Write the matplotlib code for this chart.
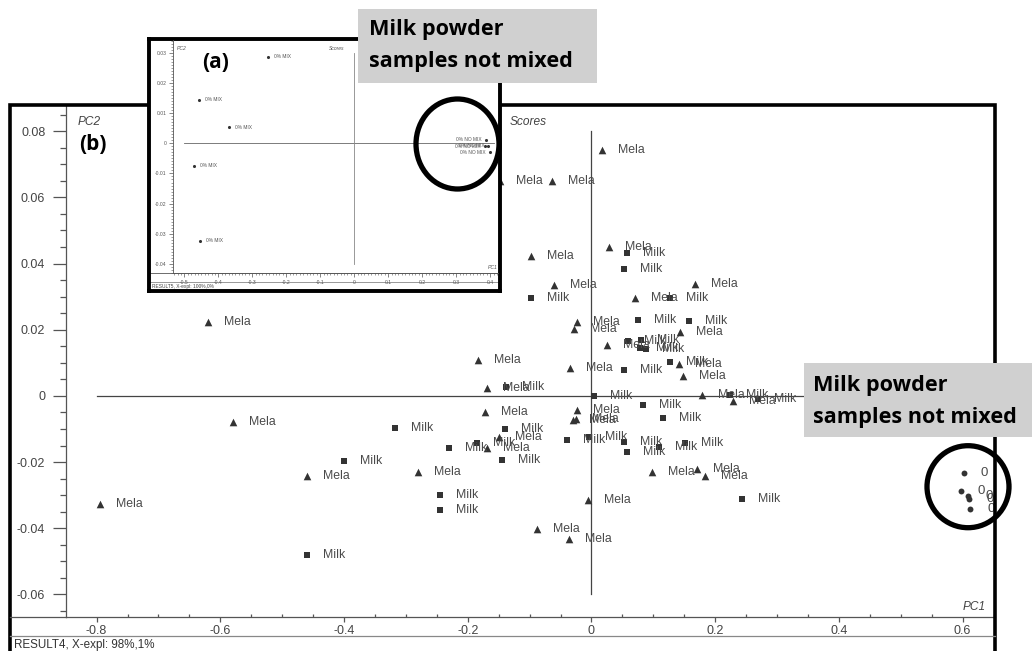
import matplotlib
matplotlib.use("Agg")
import matplotlib.pyplot as plt
from matplotlib.patches import Rectangle, Ellipse
from matplotlib.lines import Line2D
from matplotlib.ticker import MultipleLocator, FuncFormatter

plt.rcParams['axes.unicode_minus'] = False
plt.rcParams['font.family'] = ['Liberation Sans', 'DejaVu Sans']

# ---- main plot (b): PCA scores ----
mela_x = [0.0165, -0.148, -0.0643, -0.0978, 0.0288, -0.0601, 0.1673, 0.0711, -0.620,
          -0.0239, -0.0278, 0.1431, 0.0251, -0.1835, -0.0348, 0.1414, 0.1474, -0.1694,
          0.1786, 0.2283, -0.1722, -0.0234, -0.0299, -0.0251, -0.580, -0.149, -0.1694,
          -0.280, -0.4594, 0.0983, 0.171, 0.1835, -0.7945, -0.0052, -0.0886, -0.0364]
mela_y = [0.0743, 0.0650, 0.0650, 0.0424, 0.0449, 0.0335, 0.0337, 0.0295, 0.0224,
          0.0223, 0.0202, 0.0194, 0.0154, 0.0109, 0.0085, 0.0097, 0.0061, 0.0025,
          0.0003, -0.0014, -0.0050, -0.0042, -0.0073, -0.0069, -0.0079, -0.0123, -0.0158,
          -0.0229, -0.0242, -0.0229, -0.0221, -0.0242, -0.0327, -0.0314, -0.0402, -0.0432]

milk_x = [0.0569, 0.0530, -0.0978, 0.1269, 0.0757, 0.1581, 0.0590, 0.0800, 0.0784,
          0.0881, 0.1269, 0.0530, -0.1382, 0.0045, 0.2239, 0.2692, 0.0828, 0.1161,
          -0.3181, -0.1398, -0.1846, -0.2304, -0.1442, -0.0401, -0.0040, 0.0525,
          0.0569, 0.1091, 0.1511, -0.3996, 0.2438, -0.2449, -0.2449, -0.4604]
milk_y = [0.0431, 0.0384, 0.0297, 0.0297, 0.0230, 0.0227, 0.0165, 0.0168, 0.0144,
          0.0142, 0.0102, 0.0079, 0.0028, 0.0001, 0.0003, -0.0010, -0.0027, -0.0066,
          -0.0096, -0.0101, -0.0143, -0.0158, -0.0193, -0.0132, -0.0124, -0.0138,
          -0.0170, -0.0153, -0.0143, -0.0197, -0.0311, -0.0299, -0.0344, -0.0480]

zero_x = [0.6021, 0.5973, 0.6091, 0.6107, 0.6119]
zero_y = [-0.0232, -0.0286, -0.0302, -0.0312, -0.0342]

xticks_main = [-0.8, -0.6, -0.4, -0.2, 0, 0.2, 0.4, 0.6]
yticks_main = [-0.06, -0.04, -0.02, 0, 0.02, 0.04, 0.06, 0.08]

# ---- inset (a) ----
mix_x = [-0.2529, -0.456, -0.3677, -0.4707, -0.4539]
mix_y = [0.0288, 0.0146, 0.0054, -0.0075, -0.0324]
nomix_x = [0.3871, 0.385, 0.3948, 0.3998]
nomix_y = [0.0013, -0.0009, -0.0008, -0.0030]

xticks_inset = [-0.5, -0.4, -0.3, -0.2, -0.1, 0, 0.1, 0.2, 0.3, 0.4]
yticks_inset = [-0.04, -0.03, -0.02, -0.01, 0, 0.01, 0.02, 0.03]

W, H = 1032, 651


def fx(px):
    return px / W


def fy(py):
    return 1 - py / H


def fmt(v, pos=None):
    if abs(v) < 1e-9:
        return '0'
    return '%g' % round(v, 4)


mark_c = '#333333'
lab_c = '#4a4a4a'
axis_c = '#555555'
bold_font = ['Open Sans', 'DejaVu Sans']

fig = plt.figure(figsize=(W / 100, H / 100), dpi=100)
fig.patch.set_facecolor('white')

# main axes
ax = fig.add_axes([fx(66), fy(617), (995 - 66) / W, (617 - 105) / H])
ax.set_xlim(-0.8495, 0.6523)
ax.set_ylim(-0.0668, 0.0879)
for s in ['top', 'right']:
    ax.spines[s].set_visible(False)
for s in ['left', 'bottom']:
    ax.spines[s].set_color(axis_c)
    ax.spines[s].set_linewidth(0.9)

ax.set_xticks(xticks_main)
ax.set_yticks(yticks_main)
ax.xaxis.set_minor_locator(MultipleLocator(0.05))
ax.yaxis.set_minor_locator(MultipleLocator(0.005))
ax.xaxis.set_major_formatter(FuncFormatter(fmt))
ax.yaxis.set_major_formatter(FuncFormatter(fmt))
ax.tick_params(axis='y', which='major', length=9.4, width=0.9, color=axis_c,
               labelsize=9, labelcolor='#444444', pad=5.5)
ax.tick_params(axis='y', which='minor', length=4, width=0.9, color=axis_c)
ax.tick_params(axis='x', which='major', length=3.6, width=0.9, color=axis_c,
               labelsize=9, labelcolor='#444444', pad=2.5)
ax.tick_params(axis='x', which='minor', direction='in', length=2, width=0.9, color=axis_c)

ax.plot([-0.8, 0.6], [0, 0], color='#444444', lw=0.9, zorder=1)
ax.plot([0, 0], [-0.06, 0.08], color='#444444', lw=0.9, zorder=1)

ax.scatter(mela_x, mela_y, marker='^', s=30, color=mark_c, zorder=3, linewidths=0)
ax.scatter(milk_x, milk_y, marker='s', s=20, color=mark_c, zorder=3, linewidths=0)
ax.scatter(zero_x, zero_y, marker='o', s=18, color=mark_c, zorder=3, linewidths=0)
for x, y in zip(mela_x, mela_y):
    ax.annotate('Mela', (x, y), xytext=(16, 0), textcoords='offset pixels',
                va='center', ha='left', fontsize=8.8, color=lab_c, zorder=4)
for x, y in zip(milk_x, milk_y):
    ax.annotate('Milk', (x, y), xytext=(16, 0), textcoords='offset pixels',
                va='center', ha='left', fontsize=8.8, color=lab_c, zorder=4)
for x, y in zip(zero_x, zero_y):
    ax.annotate('0', (x, y), xytext=(17, 0), textcoords='offset pixels',
                va='center', ha='left', fontsize=9.5, color=lab_c, zorder=4)

# lines around the main plot
fig.add_artist(Line2D([fx(10), fx(66)], [fy(617), fy(617)], color=axis_c, lw=0.9))
fig.add_artist(Line2D([fx(10), fx(995)], [fy(636), fy(636)], color='#888888', lw=0.9))
fig.add_artist(Rectangle((fx(10), fy(700)), (995 - 10) / W, (700 - 105) / H,
                         transform=fig.transFigure, fill=False, ec='black', lw=2.6, zorder=1))
fig.text(fx(78), fy(122), 'PC2', fontsize=8.6, style='italic', color='#444444', va='center')
fig.text(fx(510), fy(122), 'Scores', fontsize=8.6, style='italic', color='#444444', va='center')
fig.text(fx(963), fy(607), 'PC1', fontsize=8.6, style='italic', color='#444444', va='center')
fig.text(fx(14), fy(645), 'RESULT4, X-expl: 98%,1%', fontsize=8.4, color='#333333', va='center')
fig.text(fx(79), fy(145), '(b)', fontsize=15, fontweight='bold', family=bold_font,
         color='black', va='center', zorder=10)

# inset (a) frame and axes
axf = fig.add_axes([fx(149), fy(291), (500 - 149) / W, (291 - 39) / H])
axf.set_zorder(2)
axf.set_xticks([])
axf.set_yticks([])
for s in axf.spines.values():
    s.set_linewidth(2.8)
    s.set_color('black')
axf.plot([0, 1], [(291 - 273) / (291 - 39)] * 2, transform=axf.transAxes, color=axis_c, lw=0.6)
axf.plot([0, 1], [(291 - 282) / (291 - 39)] * 2, transform=axf.transAxes, color='#888888', lw=0.6)

ax2 = fig.add_axes([fx(173.3), fy(273.3), (498 - 173.3) / W, (273.3 - 40) / H])
ax2.set_zorder(3)
ax2.patch.set_visible(False)
ax2.set_xlim(-0.5325, 0.4232)
ax2.set_ylim(-0.0432, 0.0344)
for s in ['top', 'right']:
    ax2.spines[s].set_visible(False)
for s in ['left', 'bottom']:
    ax2.spines[s].set_color(axis_c)
    ax2.spines[s].set_linewidth(0.6)
ax2.set_xticks(xticks_inset)
ax2.set_yticks(yticks_inset)
ax2.xaxis.set_minor_locator(MultipleLocator(0.01))
ax2.yaxis.set_minor_locator(MultipleLocator(0.001))
ax2.xaxis.set_major_formatter(FuncFormatter(fmt))
ax2.yaxis.set_major_formatter(FuncFormatter(fmt))
ax2.tick_params(which='major', length=3, width=0.5, color=axis_c, labelsize=3.6,
                labelcolor='#555555', pad=2)
ax2.tick_params(which='minor', length=1.3, width=0.4, color=axis_c)
ax2.plot([-0.5, 0.41], [0, 0], color='#666666', lw=0.6)
ax2.plot([0, 0], [-0.04, 0.03], color='#888888', lw=0.6)
ax2.scatter(mix_x, mix_y, marker='o', s=5, color=mark_c, linewidths=0)
ax2.scatter(nomix_x, nomix_y, marker='o', s=5, color=mark_c, linewidths=0)
for x, y in zip(mix_x, mix_y):
    ax2.annotate('0% MIX', (x, y), xytext=(6, 0), textcoords='offset pixels',
                 va='center', ha='left', fontsize=3.5, color='#555555')
for x, y in zip(nomix_x, nomix_y):
    ax2.annotate('0% NO MIX', (x, y), xytext=(-4, 0), textcoords='offset pixels',
                 va='center', ha='right', fontsize=3.5, color='#555555')

fig.text(fx(177), fy(48), 'PC2', fontsize=3.6, style='italic', color='#555555', va='center', zorder=10)
fig.text(fx(329), fy(48), 'Scores', fontsize=3.6, style='italic', color='#555555', va='center', zorder=10)
fig.text(fx(488), fy(268), 'PC1', fontsize=3.6, style='italic', color='#555555', va='center', zorder=10)
fig.text(fx(152), fy(286.5), 'RESULT5, X-expl: 100%,0%', fontsize=3.5, color='#444444',
         va='center', zorder=10)
fig.text(fx(202), fy(63), '(a)', fontsize=15, fontweight='bold', family=bold_font,
         color='black', va='center', zorder=10)

# grey call-out boxes
box_c = '#d0d0d0'
fig.add_artist(Rectangle((fx(358), fy(83)), (597 - 358) / W, (83 - 9) / H,
                         transform=fig.transFigure, fc=box_c, ec='none', zorder=20))
fig.add_artist(Rectangle((fx(804), fy(437)), (1032 - 804) / W, (437 - 363) / H,
                         transform=fig.transFigure, fc=box_c, ec='none', zorder=20))
for bx, by in [(369, 35), (813, 391.5)]:
    fig.text(fx(bx), fy(by), 'Milk powder', fontsize=15.6, fontweight='bold', family=bold_font,
             color='black', va='baseline', zorder=21)
    fig.text(fx(bx), fy(by + 32), 'samples not mixed', fontsize=15.6, fontweight='bold',
             family=bold_font, color='black', va='baseline', zorder=21)

# circles around the not-mixed samples
fig.add_artist(Ellipse((fx(457.5), fy(144)), 2 * 41.5 / W, 2 * 45 / H,
                       transform=fig.transFigure, fill=False, ec='black', lw=3.8, zorder=22))
fig.add_artist(Ellipse((fx(968), fy(486.7)), 2 * 41 / W, 2 * 41 / H,
                       transform=fig.transFigure, fill=False, ec='black', lw=3.8, zorder=22))

fig.savefig('out.png', dpi=100)
